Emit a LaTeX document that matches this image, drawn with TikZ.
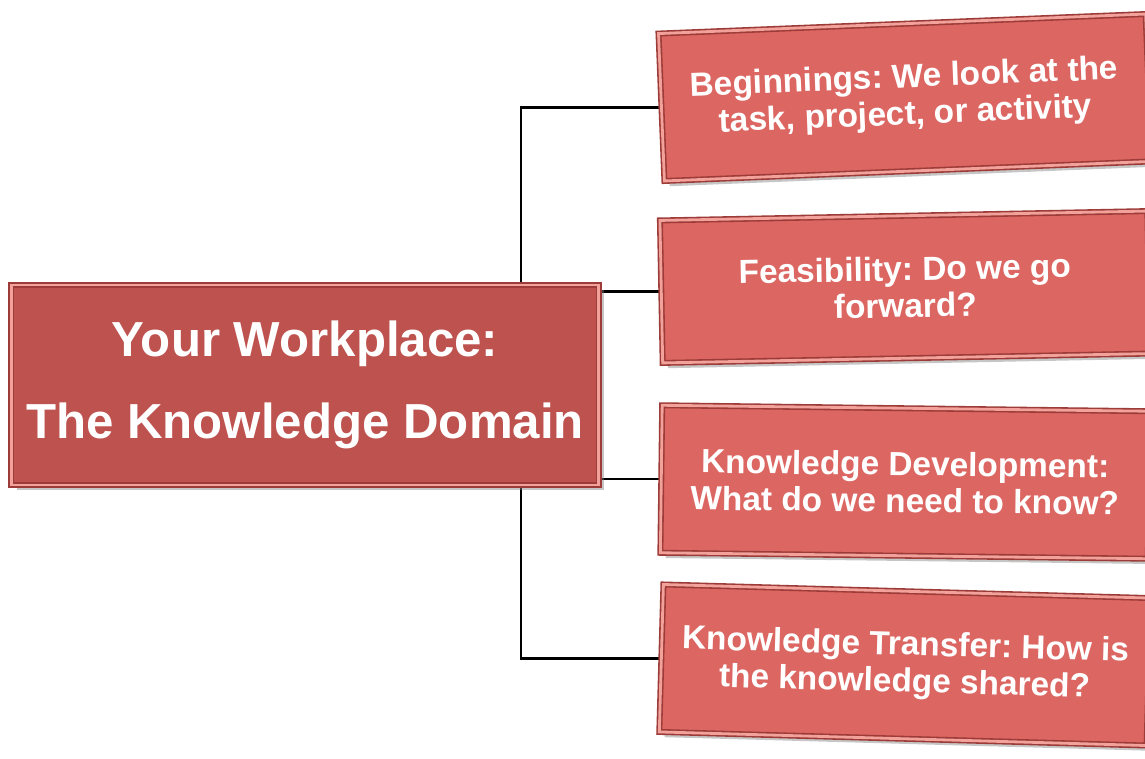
\documentclass[tikz,border=0pt]{standalone}
\usepackage{fontspec}
\setmainfont{Liberation Sans}
\usepackage{xcolor}
\usetikzlibrary{positioning,shadows,backgrounds}
\frenchspacing

\definecolor{mainred}{HTML}{BD524E}
\definecolor{boxred}{HTML}{DC6662}
\definecolor{edgered}{HTML}{9C3B37}
\definecolor{bevel}{HTML}{F2A19B}

\tikzset{
  topic/.style={draw=edgered, line width=0.9pt, double=bevel, double distance=1.6pt,
    fill=#1, text=white, font=\bfseries, align=center,
    drop shadow={opacity=0.45, shadow xshift=3pt, shadow yshift=-3pt}},
  stage/.style={topic=boxred, minimum width=9.75cm, minimum height=2.95cm,
    font=\bfseries\fontsize{19}{21}\selectfont},
  link/.style={draw=black, line width=1.6pt}
}

\begin{document}
\begin{tikzpicture}
    \useasboundingbox (0,0) rectangle (22.9,-15.16);

    % the four stages on the right
    \node[stage, rotate=2.3] (b1) at (18.1,-1.95)
          {Beginnings: We look at the\\task, project, or activity};
    \node[stage, minimum height=2.85cm, rotate=1.1] (b2) at (18.1,-5.74)
          {Feasibility: Do we go\\forward?};
    \node[stage, rotate=-0.7] (b3) at (18.1,-9.64)
          {Knowledge Development:\\What do we need to know?};
    \node[stage, rotate=-1.6] (b4) at (18.1,-13.3)
          {Knowledge Transfer: How is\\the knowledge shared?};

    % the domain itself
    \node[topic=mainred, minimum width=11.75cm, minimum height=4.0cm,
          font=\bfseries\fontsize{28}{47}\selectfont] (main) at (6.1,-7.7)
          {Your Workplace:\\The Knowledge Domain};

    \coordinate (j) at (10.42,-7.7);

    % tree lines, kept behind the boxes
    \begin{scope}[on background layer]
        \draw[link] (j) |- (b1.west);
        \draw[link] (j) |- (b2.west);
        \draw[link] (j) |- (b3.west);
        \draw[link] (j) |- (b4.west);
    \end{scope}
\end{tikzpicture}
\end{document}
